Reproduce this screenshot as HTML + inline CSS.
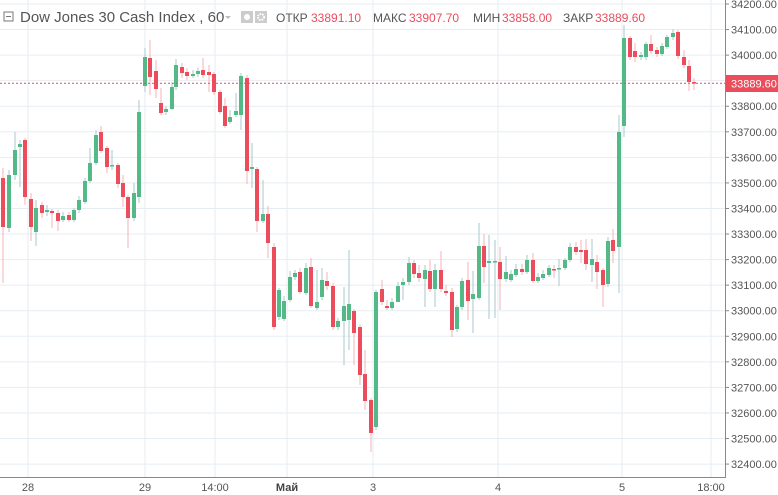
<!DOCTYPE html>
<html><head><meta charset="utf-8"><style>
html,body{margin:0;padding:0;background:#fff;width:778px;height:495px;overflow:hidden}
svg{display:block;font-family:"Liberation Sans","DejaVu Sans",sans-serif}
</style></head><body>
<svg id="s" width="778" height="495" xmlns="http://www.w3.org/2000/svg">
<rect width="778" height="495" fill="#fff"/>
<g id="grid"></g>
<g id="c"></g>
<line x1="0" y1="83.3" x2="725" y2="83.3" stroke="#eb4d5c" stroke-width="1" stroke-dasharray="2,2"/>
<line x1="725.5" y1="0" x2="725.5" y2="477" stroke="#888" stroke-width="1"/>
<line x1="0" y1="477.5" x2="726" y2="477.5" stroke="#888" stroke-width="1"/>
<g id="ax" font-size="11" fill="#555"></g>
<rect x="726" y="75" width="52" height="17" fill="#eb4d5c"/>
<text x="731" y="87.5" font-size="11" fill="#fff">33889.60</text>
<g font-size="11" fill="#555" text-anchor="middle">
<text x="28" y="491">28</text><text x="145" y="491">29</text><text x="215" y="491">14:00</text>
<text x="287" y="491" font-weight="bold" fill="#444">Май</text><text x="373" y="491">3</text>
<text x="498" y="491">4</text><text x="622" y="491">5</text><text x="711" y="491">18:00</text>
</g>
<rect x="4" y="12" width="9" height="9" fill="none" stroke="#777" stroke-width="1"/>
<line x1="6" y1="16.5" x2="11" y2="16.5" stroke="#777"/>
<text x="20" y="22" font-size="15" fill="#555">Dow Jones 30 Cash Index , 60</text>
<path d="M225 16 l6 0 l-3 3z" fill="#bbb"/>
<rect x="241" y="11" width="12" height="12" fill="#ccc"/><circle cx="247" cy="17" r="3" fill="#fff"/>
<rect x="255" y="11" width="12" height="12" fill="#ccc"/><circle cx="261" cy="17" r="3" fill="none" stroke="#fff" stroke-width="2" stroke-dasharray="1.5,1"/>
<g font-size="12">
<text x="276" y="22" fill="#555">ОТКР</text><text x="311" y="22" fill="#eb4d5c">33891.10</text>
<text x="373" y="22" fill="#555">МАКС</text><text x="409" y="22" fill="#eb4d5c">33907.70</text>
<text x="473" y="22" fill="#555">МИН</text><text x="502" y="22" fill="#eb4d5c">33858.00</text>
<text x="563" y="22" fill="#555">ЗАКР</text><text x="595" y="22" fill="#eb4d5c">33889.60</text>
</g>
</svg>
<script>
var NS="http://www.w3.org/2000/svg";
function el(p,t,a,txt){var e=document.createElementNS(NS,t);for(var k in a)e.setAttribute(k,a[k]);if(txt)e.textContent=txt;p.appendChild(e);return e;}
var g=document.getElementById('grid'),ax=document.getElementById('ax'),c=document.getElementById('c');
for(var p=34200;p>=32400;p-=100){var y=4+(34200-p)*0.2556;
 el(g,'line',{x1:0,x2:725,y1:y,y2:y,stroke:'#e6edf2','stroke-width':1});
 if(p!=33900) el(ax,'text',{x:731,y:y+4},p.toFixed(2));
 el(ax,'line',{x1:725,x2:729,y1:y,y2:y,stroke:'#888'});}
[28,145,215,287,373,498,622,711].forEach(function(x){el(g,'line',{x1:x,x2:x,y1:0,y2:477,stroke:'#e6edf2','stroke-width':1});});
var d=[[3,178,227,168,283,'r'],[9,175,228,170,232,'g'],[15,150,175,132,180,'g'],[20,144,147,140,187,'g'],[25,140,197,138,205,'r'],
[31,199,227,193,241,'r'],[36,208,232,200,246,'g'],[42,205,213,202,218,'r'],[47,210,212,205,216,'g'],[52,211,213,209,228,'r'],
[58,213,221,210,231,'r'],[63,216,220,212,222,'g'],[69,215,220,212,222,'r'],[74,210,220,208,222,'g'],[79,200,210,196,213,'g'],
[85,181,202,178,204,'g'],[90,163,181,148,183,'g'],[96,135,163,130,165,'g'],[101,132,151,126,153,'r'],[107,148,167,146,173,'r'],
[112,165,166,150,170,'g'],[118,165,184,163,188,'r'],[123,183,197,175,207,'r'],[128,197,218,195,248,'r'],[134,193,218,183,221,'g'],
[139,112,197,100,203,'g'],[145,57,86,48,92,'g'],[150,58,77,40,95,'r'],[156,71,89,60,98,'r'],[161,103,113,88,115,'r'],
[166,109,112,106,115,'g'],[172,87,109,82,110,'g'],[176,65,87,59,90,'g'],[182,67,73,63,78,'r'],[187,72,76,68,80,'r'],
[193,74,76,70,78,'g'],[198,71,74,68,77,'g'],[203,70,75,58,78,'r'],[209,72,75,65,92,'r'],[214,74,92,72,95,'r'],
[220,92,112,90,114,'r'],[225,106,126,98,128,'r'],[230,117,122,110,124,'g'],[236,111,115,93,117,'g'],[241,76,115,73,130,'g'],
[247,78,171,75,184,'r'],[252,167,169,143,188,'g'],[257,169,221,167,232,'r'],[263,214,221,180,223,'g'],[268,214,243,206,258,'r'],
[274,247,327,243,330,'r'],[279,290,317,288,320,'g'],[284,301,319,296,321,'g'],[290,277,300,271,302,'g'],[295,273,277,270,280,'g'],
[300,272,292,268,294,'r'],[306,268,293,263,295,'g'],[311,267,306,258,308,'r'],[317,302,308,270,310,'g'],[322,280,297,268,300,'g'],
[327,281,286,272,290,'r'],[333,286,327,283,330,'r'],[338,321,327,318,330,'g'],[344,306,321,287,365,'g'],[349,304,320,250,350,'g'],
[354,311,333,309,365,'r'],[360,327,375,325,385,'r'],[365,374,401,350,410,'r'],[371,400,433,398,452,'r'],[376,292,427,290,430,'g'],
[382,289,302,280,305,'r'],[387,306,308,300,310,'r'],[392,302,308,298,310,'g'],[398,286,302,282,297,'g'],[403,282,285,278,300,'g'],
[409,263,282,257,285,'g'],[414,263,274,260,278,'r'],[419,273,278,265,282,'r'],[425,270,279,265,307,'g'],[430,271,289,260,292,'r'],
[435,270,289,264,307,'g'],[441,270,289,251,292,'r'],[446,291,293,285,296,'r'],[452,292,330,288,337,'r'],[457,307,329,305,332,'g'],
[462,281,307,278,310,'g'],[468,280,301,262,320,'r'],[473,294,299,271,333,'g'],[479,246,298,223,300,'g'],[484,246,267,234,283,'r'],
[489,261,263,235,319,'g'],[495,261,262,240,318,'g'],[500,262,279,247,310,'r'],[506,272,279,256,282,'g'],[511,274,280,270,282,'g'],
[516,269,275,264,277,'g'],[522,269,272,264,275,'r'],[527,260,272,255,274,'g'],[533,260,281,253,283,'r'],[538,277,281,273,283,'g'],
[543,274,278,270,280,'g'],[549,268,275,265,277,'g'],[554,269,270,265,278,'r'],[559,268,269,259,286,'g'],[565,260,268,258,270,'g'],
[570,247,260,243,262,'g'],[576,247,252,242,255,'r'],[581,250,252,240,263,'r'],[586,250,264,239,270,'r'],[592,259,265,239,282,'g'],
[597,262,272,255,289,'r'],[603,270,285,268,307,'r'],[608,241,284,237,287,'g'],[613,240,251,229,263,'r'],[619,132,247,115,293,'g'],
[624,38,126,25,137,'g'],[630,38,57,36,60,'r'],[635,51,57,43,62,'r'],[641,55,57,52,60,'g'],[646,44,57,42,60,'g'],
[651,44,51,35,54,'r'],[657,50,54,47,57,'r'],[662,46,54,43,56,'g'],[667,37,47,35,49,'g'],[673,33,37,29,40,'g'],
[678,32,56,30,59,'r'],[684,57,65,50,68,'r'],[689,66,82,60,91,'r'],[694,82,83,78,90,'r']];
d.forEach(function(k){var col=k[5]=='g'?'#53b987':'#eb4d5c',wc=k[5]=='g'?'#a9c9cc':'#f5b3ba';
 el(c,'line',{x1:k[0],x2:k[0],y1:k[3],y2:k[4],stroke:wc,'stroke-width':1});
 el(c,'rect',{x:k[0]-2,y:k[1],width:4,height:Math.max(1.5,k[2]-k[1]),fill:col});});
</script>
</body></html>
